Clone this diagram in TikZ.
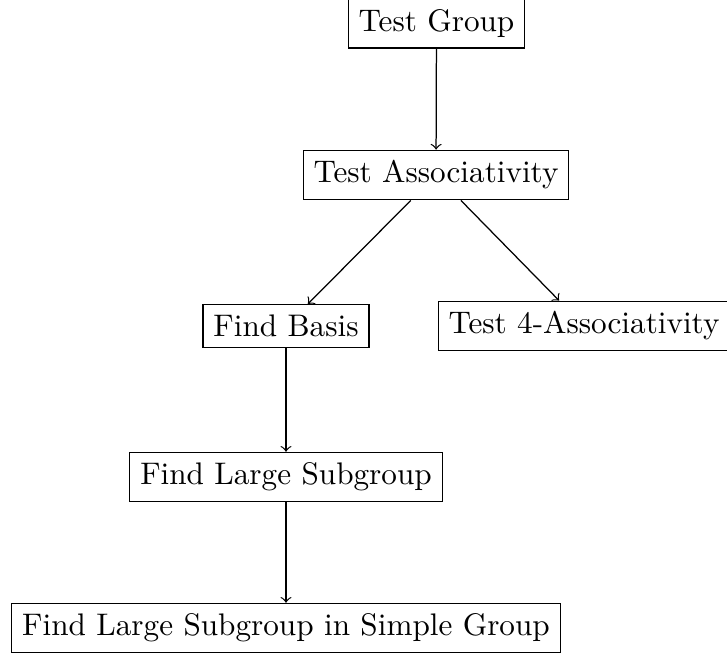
\documentclass[tikz,border=0pt]{standalone}
\begin{document}
\begin{tikzpicture}[x=0.3205pt, y=-0.3205pt,
  box/.style={draw, rectangle},
  conn/.style={->}]
\useasboundingbox (0,0) rectangle (727,653);
\node[box] (tg) at (436.5,23.5) {Test Group};
\node[box] (ta) at (436,175) {Test Associativity};
\node[box] (fb) at (286,326) {Find Basis};
\node[box] (t4) at (584,326) {Test 4-Associativity};
\node[box] (fl) at (286,477) {Find Large Subgroup};
\node[box] (fs) at (286,628) {Find Large Subgroup in Simple Group};
\draw[conn] (tg) -- (ta);
\draw[conn] (ta) -- (fb);
\draw[conn] (ta) -- (t4);
\draw[conn] (fb) -- (fl);
\draw[conn] (fl) -- (fs);
\end{tikzpicture}
\end{document}
